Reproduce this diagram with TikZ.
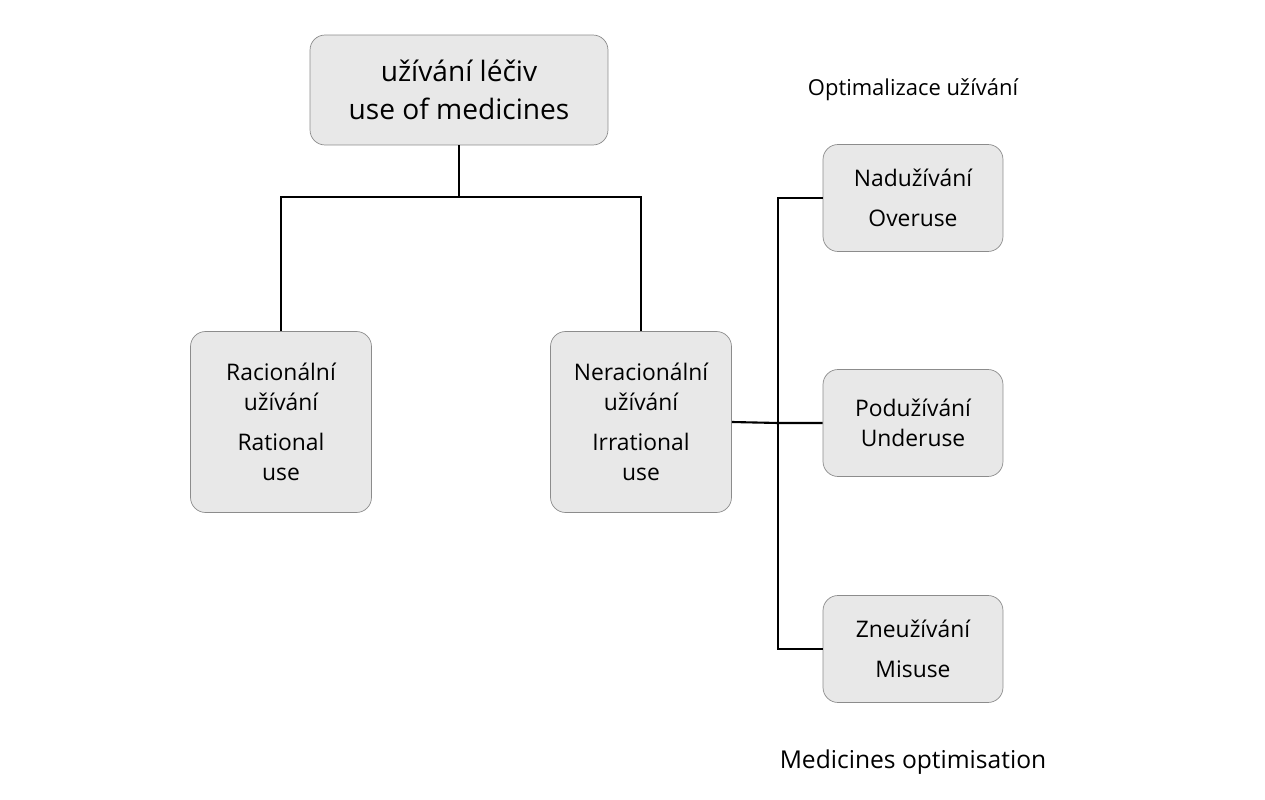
\documentclass[tikz,border=0pt]{standalone}
\usepackage{fontspec}
\setmainfont{Open Sans}
\usetikzlibrary{positioning}
\begin{document}
\begin{tikzpicture}[x=0.02cm,y=-0.02cm,
  box/.style={rectangle,rounded corners=3mm,draw=black!45,fill=black!9,align=center,font=\fontsize{13}{17}\selectfont,inner sep=0pt},
  link/.style={line width=1.2pt}]
\useasboundingbox (0,0) rectangle (1265,800);
%Boxes
\node [box,minimum width=5.96cm,minimum height=2.2cm,font=\fontsize{16}{22}\selectfont] at (459,90) (Uses) {užívání léčiv\\use of medicines};
\node [box,minimum width=3.62cm,minimum height=3.62cm] at (281,422) (Rational) {Racionální\\užívání\\[2mm]Rational\\use};
\node [box,minimum width=3.62cm,minimum height=3.62cm] at (641,422) (Irrational) {Neracionální\\užívání\\[2mm]Irrational\\use};
\node [box,minimum width=3.6cm,minimum height=2.14cm] at (913,198) (Overuse) {Nadužívání\\[2mm]Overuse};
\node [box,minimum width=3.6cm,minimum height=2.14cm] at (913,423) (Underuse) {Podužívání\\Underuse};
\node [box,minimum width=3.6cm,minimum height=2.14cm] at (913,649) (Misuse) {Zneužívání\\[2mm]Misuse};
%Labels
\node [font=\fontsize{12.5}{15}\selectfont] at (913,90) (Optim) {Optimalizace užívání};
\node [font=\fontsize{14}{17}\selectfont] at (913,762) (MedOpt) {Medicines optimisation};
%connections
\coordinate (Split) at (459,197);
\coordinate (Trunk) at (778,423);
\draw [link] (Uses.south) -- (Split) -| (Rational.north);
\draw [link] (Split) -| (Irrational.north);
\draw [link] (Irrational.east) -- (Trunk) -- (Underuse.west);
\draw [link] (Overuse.west) -| (Trunk) |- (Misuse.west);
\end{tikzpicture}
\end{document}
